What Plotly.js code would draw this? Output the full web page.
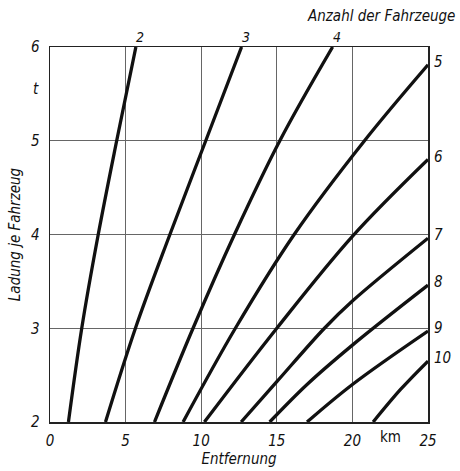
<!DOCTYPE html>
<html>
<head>
<meta charset="utf-8">
<script src="https://cdn.plot.ly/plotly-3.0.1.min.js"></script>
<style>html,body{margin:0;padding:0;background:#fff;}#chart{width:460px;height:471px;}</style>
</head>
<body>
<div id="chart"></div>
<script>
// Anzahl der Fahrzeuge (curve labels)
const vehicleCounts = ['2','3','4','5','6','7','8','9','10'];
// Entfernung (km) and Ladung je Fahrzeug (t) for each curve
const dist2 = [1.22, 2.10, 3.19, 4.41, 5.68];
const load2 = [2, 3, 4, 5, 6];
const dist3 = [3.67, 5.65, 7.93, 10.30, 12.67];
const load3 = [2, 3, 4, 5, 6];
const dist4 = [6.91, 9.46, 12.20, 15.20, 18.69];
const load4 = [2, 3, 4, 5, 6];
const dist5 = [8.80, 12.26, 16.15, 20.80, 25];
const load5 = [2, 3, 4, 5, 5.81];
const dist6 = [10.21, 15, 20, 25];
const load6 = [2, 3, 3.98, 4.80];
const dist7 = [12.64, 15, 18.15, 20, 25];
const load7 = [2, 2.43, 3, 3.29, 3.96];
const dist8 = [14.53, 17, 20, 25];
const load8 = [2, 2.40, 2.82, 3.46];
const dist9 = [17.0, 20, 25];
const load9 = [2, 2.40, 2.97];
const dist10 = [21.37, 23.2, 25];
const load10 = [2, 2.35, 2.65];
// Axis ticks
const xTicks = [0, 5, 10, 15, 20, 25];
const yTicks = [2, 3, 4, 5, 6];

const dists = [dist2, dist3, dist4, dist5, dist6, dist7, dist8, dist9, dist10];
const loads = [load2, load3, load4, load5, load6, load7, load8, load9, load10];

const FONT = '"DejaVu Sans Condensed", "DejaVu Sans", sans-serif';

const traces = dists.map((d, i) => ({
  x: d, y: loads[i], type: 'scatter', mode: 'lines',
  line: {color: '#111', width: 3.3, shape: 'spline', smoothing: 1},
  hoverinfo: 'skip', showlegend: false
}));

const annotations = [];
dists.forEach((d, i) => {
  const lx = d[d.length - 1], ly = loads[i][loads[i].length - 1];
  if (ly >= 6) {
    annotations.push({x: lx, y: ly, xref: 'x', yref: 'y', text: vehicleCounts[i],
      showarrow: false, xanchor: 'center', yanchor: 'bottom', xshift: 4, yshift: 0,
      font: {family: FONT, size: 14, color: '#111', style: 'italic'}});
  } else {
    annotations.push({x: lx, y: ly, xref: 'x', yref: 'y', text: vehicleCounts[i],
      showarrow: false, xanchor: 'left', yanchor: 'middle', xshift: 4, yshift: 3,
      font: {family: FONT, size: 15, color: '#111', style: 'italic'}});
  }
});
annotations.push({x: 1, y: 1, xref: 'paper', yref: 'paper', text: 'Anzahl der Fahrzeuge',
  showarrow: false, xanchor: 'right', yanchor: 'bottom', xshift: 29, yshift: 20,
  font: {family: FONT, size: 15, color: '#111', style: 'italic'}});
annotations.push({x: 22.5, y: 0, xref: 'x', yref: 'paper', text: 'km',
  showarrow: false, xanchor: 'center', yanchor: 'top', yshift: -4,
  font: {family: FONT, size: 15, color: '#111'}});
annotations.push({x: 0, y: 5.55, xref: 'paper', yref: 'y', text: 't',
  showarrow: false, xanchor: 'right', yanchor: 'middle', xshift: -9,
  font: {family: FONT, size: 15, color: '#111', style: 'italic'}});

const layout = {
  width: 460, height: 471,
  margin: {l: 50, r: 32, t: 47, b: 49, pad: 0},
  paper_bgcolor: '#fff', plot_bgcolor: '#fff',
  showlegend: false,
  xaxis: {
    range: [0, 25], tickvals: xTicks, ticktext: xTicks.map(String),
    showgrid: true, gridcolor: '#666', gridwidth: 1,
    showline: true, mirror: true, linecolor: '#222', linewidth: 1.5,
    zeroline: false, ticks: '', ticklabelstandoff: 4,
    tickfont: {family: FONT, size: 15, color: '#111', style: 'italic'},
    title: {text: 'Entfernung', standoff: 2,
      font: {family: FONT, size: 15, color: '#111', style: 'italic'}}
  },
  yaxis: {
    range: [2, 6], tickvals: yTicks, ticktext: yTicks.map(String),
    showgrid: true, gridcolor: '#666', gridwidth: 1,
    showline: true, mirror: true, linecolor: '#222', linewidth: 1.5,
    zeroline: false, ticks: '', ticklabelstandoff: 6,
    tickfont: {family: FONT, size: 15, color: '#111', style: 'italic'},
    title: {text: 'Ladung je Fahrzeug', standoff: 6,
      font: {family: FONT, size: 15, color: '#111', style: 'italic'}}
  },
  annotations: annotations
};

Plotly.newPlot('chart', traces, layout, {staticPlot: true, displayModeBar: false});
</script>
</body>
</html>
